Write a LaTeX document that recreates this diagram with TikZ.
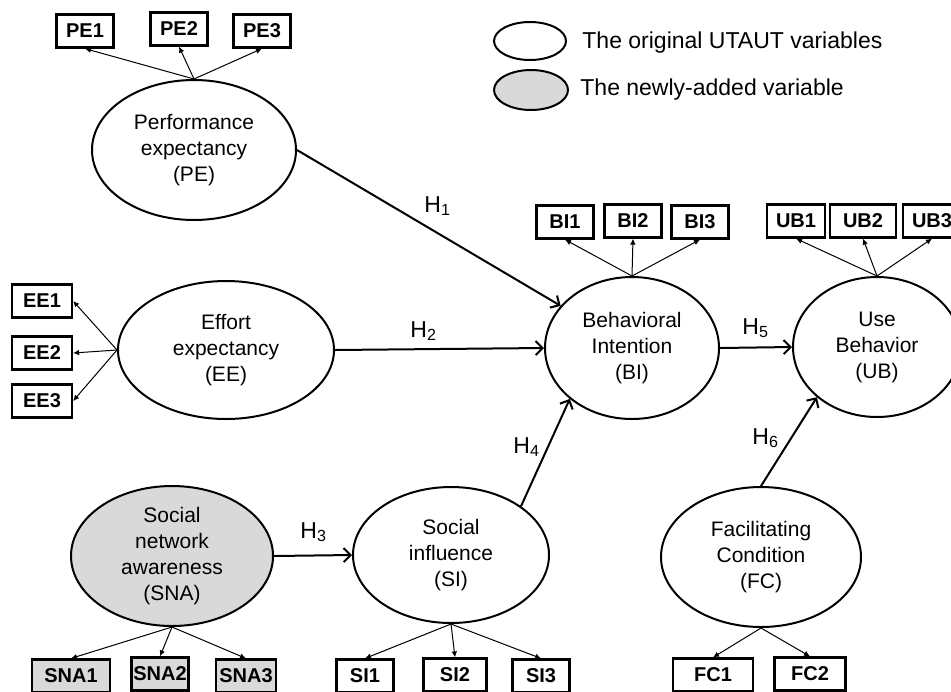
\documentclass[tikz,border=0pt]{standalone}
\usepackage{fontspec}
\setmainfont{Liberation Sans}
\usepackage{tikz}
\usetikzlibrary{arrows.meta, shapes.geometric, positioning}
\definecolor{newgray}{RGB}{217,217,217}
\tikzset{
	construct/.style={ellipse, draw, line width=1pt, fill=white, align=center, inner sep=0pt, font=\fontsize{10.5}{13}\selectfont},
	newconstruct/.style={construct, fill=newgray},
	item/.style={rectangle, draw, line width=1.1pt, fill=white, minimum width=28.5pt, minimum height=16.5pt, inner sep=0pt, font=\fontsize{10}{11}\selectfont\bfseries},
	newitem/.style={item, fill=newgray},
	hyp/.style={anchor=base west, inner sep=0pt, font=\fontsize{11.5}{13}\selectfont},
	effect/.style={draw, line width=1pt, -{Straight Barb[length=3.5pt, width=7pt]}},
	line/.style={draw, line width=0.5pt, -{Latex[length=3pt, width=2.8pt]}}
}

\begin{document}
\begin{tikzpicture}[x=0.5pt, y=-0.5pt]
	\useasboundingbox (0,0) rectangle (951,691);
	
	% Legend
	\node[construct, minimum width=36pt, minimum height=19pt] (legorig) at (530,41) {};
	\node[newconstruct, minimum width=37pt, minimum height=20pt] (legnew) at (531,90) {};
	\node[anchor=base west, inner sep=0pt, font=\fontsize{11.5}{13}\selectfont] (legorigtext) at (582,48) {The original UTAUT variables};
	\node[anchor=base west, inner sep=0pt, font=\fontsize{11.5}{13}\selectfont] (legnewtext) at (580,95) {The newly-added variable};
	
	% Latent variables
	\node[construct, minimum width=102pt, minimum height=70pt] (pe) at (194,150) {Performance\\expectancy\\(PE)};
	\node[construct, minimum width=108pt, minimum height=69pt] (ee) at (226,350) {Effort\\expectancy\\(EE)};
	\node[construct, minimum width=87pt, minimum height=71pt] (bi) at (632,348) {Behavioral\\Intention\\(BI)};
	\node[construct, minimum width=84pt, minimum height=70pt] (ub) at (877,347) {Use\\Behavior\\(UB)};
	\node[newconstruct, minimum width=101pt, minimum height=70pt] (sna) at (172,556) {Social\\network\\awareness\\(SNA)};
	\node[construct, minimum width=98pt, minimum height=68pt] (si) at (451,555) {Social\\influence\\(SI)};
	\node[construct, minimum width=100pt, minimum height=70pt] (fc) at (761,557) {Facilitating\\Condition\\(FC)};
	
	% Indicators
	\node[item] (pe1) at (85,31) {PE1};
	\node[item] (pe2) at (179,29) {PE2};
	\node[item] (pe3) at (262,31) {PE3};
	\node[item, minimum width=30pt] (ee1) at (42,301) {EE1};
	\node[item, minimum width=30pt] (ee2) at (42,353) {EE2};
	\node[item, minimum width=30pt] (ee3) at (42,401) {EE3};
	\node[item] (bi1) at (565,222) {BI1};
	\node[item] (bi2) at (633,221) {BI2};
	\node[item] (bi3) at (700,222) {BI3};
	\node[item, minimum width=29pt] (ub1) at (796,221) {UB1};
	\node[item, minimum width=33pt] (ub2) at (863,221) {UB2};
	\node[item, minimum width=29pt] (ub3) at (932,221) {UB3};
	\node[newitem, minimum width=39pt] (sna1) at (71,676) {SNA1};
	\node[newitem] (sna2) at (160,674) {SNA2};
	\node[newitem, minimum width=30pt] (sna3) at (246,676) {SNA3};
	\node[item] (si1) at (365,676) {SI1};
	\node[item, minimum width=31.5pt] (si2) at (455,675) {SI2};
	\node[item] (si3) at (541,676) {SI3};
	\node[item, minimum width=40pt] (fc1) at (713,675) {FC1};
	\node[item, minimum width=35.5pt] (fc2) at (810,674) {FC2};
	
	% Loadings
	\foreach \i in {1,2,3} {
		\path[line] (pe.north) -- (pe\i.south);
		\path[line] (ee.west) -- (ee\i.east);
		\path[line] (bi.north) -- (bi\i.south);
		\path[line] (ub.north) -- (ub\i.south);
		\path[line] (sna.south) -- (sna\i.north);
		\path[line] (si.south) -- (si\i.north);
	}
	\path[line] (fc.south) -- (fc1.north);
	\path[line] (fc.south) -- (fc2.north);
	
	% Hypotheses
	\path[effect] (pe.east) -- (bi);
	\path[effect] (ee.east) -- (bi.west);
	\path[effect] (sna.east) -- (si.west);
	\path[effect] (si.north east) -- (bi.south west);
	\path[effect] (bi.east) -- (ub.west);
	\path[effect] (fc.north) -- (ub.south west);
	
	\node[hyp] (h1) at (424,212) {H\textsubscript{1}};
	\node[hyp] (h2) at (410,337) {H\textsubscript{2}};
	\node[hyp] (h3) at (300,538) {H\textsubscript{3}};
	\node[hyp] (h4) at (513,453) {H\textsubscript{4}};
	\node[hyp] (h5) at (742,334) {H\textsubscript{5}};
	\node[hyp] (h6) at (752,444) {H\textsubscript{6}};
\end{tikzpicture}
\end{document}
